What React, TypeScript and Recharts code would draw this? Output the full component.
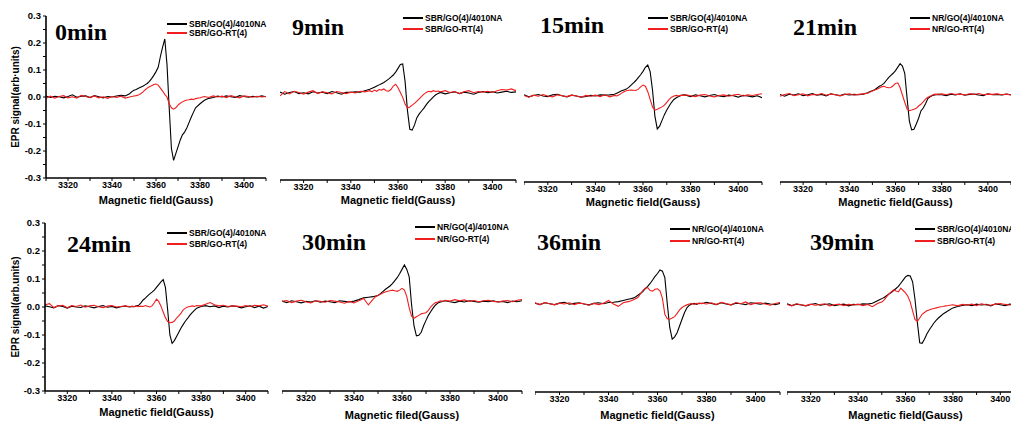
import React from 'react';
import { LineChart, Line, XAxis, YAxis } from 'recharts';

// magnetic field sampling (Gauss): coarse on the baseline, 1 G around the resonance
const FIELD = [
  3310, 3312, 3314, 3316, 3318, 3320, 3322, 3324, 3326, 3328, 3330, 3332, 3334, 3336, 3338, 3340, 3342, 3344, 3346, 3348,
  3349, 3350, 3351, 3352, 3353, 3354, 3355, 3356, 3357, 3358, 3359, 3360, 3361, 3362, 3363, 3364, 3365, 3366, 3367, 3368,
  3369, 3370, 3371, 3372, 3373, 3374, 3375, 3376, 3377,
  3378, 3380, 3382, 3384, 3386, 3388, 3390, 3392, 3394, 3396, 3398, 3400, 3402, 3404, 3406, 3408, 3410,
];

// 0 min
const B0 = [
  0.004, -0.002, 0.003, 0.001, -0.003, 0.002, 0.008, -0.001, 0.003, 0.004, -0.002, 0.005, 0.001, -0.003, 0.002, 0.0, 0.004, 0.006, 0.004, 0.012,
  0.02, 0.025, 0.028, 0.032, 0.036, 0.04, 0.045, 0.05, 0.058, 0.068, 0.08, 0.094, 0.11, 0.15, 0.185, 0.215, 0.12, -0.04, -0.19, -0.235,
  -0.21, -0.185, -0.16, -0.14, -0.13, -0.115, -0.095, -0.075, -0.057,
  -0.04, -0.025, -0.012, -0.005, -0.002, 0.003, 0.0, 0.004, 0.001, -0.002, 0.005, 0.002, -0.001, 0.003, 0.0, 0.004, 0.001,
];
const R0 = [
  -0.005, 0.003, -0.004, 0.002, 0.005, -0.003, 0.001, -0.004, 0.006, 0.002, -0.002, 0.004, -0.003, 0.001, -0.005, 0.002, -0.002, 0.003, -0.004, 0.0,
  0.002, 0.004, 0.005, 0.007, 0.012, 0.018, 0.026, 0.033, 0.038, 0.042, 0.046, 0.048, 0.044, 0.033, 0.022, 0.01, 0.0, -0.025, -0.04, -0.045,
  -0.04, -0.03, -0.023, -0.018, -0.014, -0.011, -0.01, -0.008, -0.009,
  -0.006, -0.003, 0.002, -0.002, 0.004, 0.0, 0.003, -0.002, 0.005, 0.001, -0.003, 0.004, 0.002, -0.001, 0.003, 0.0, 0.002,
];

// 9 min
const B9 = [
  0.003, -0.004, 0.002, 0.005, -0.002, 0.001, -0.003, 0.004, 0.0, 0.003, -0.002, 0.005, 0.001, -0.004, 0.002, 0.002, 0.004, 0.003, 0.008, 0.013,
  0.016, 0.02, 0.024, 0.028, 0.032, 0.036, 0.042, 0.048, 0.055, 0.062, 0.072, 0.085, 0.098, 0.1, 0.04, -0.06, -0.125, -0.128, -0.11, -0.085,
  -0.072, -0.062, -0.052, -0.04, -0.03, -0.022, -0.013, -0.006, -0.002,
  0.002, -0.003, 0.001, 0.004, -0.002, 0.003, 0.0, -0.004, 0.002, 0.005, 0.001, 0.004, 0.0, 0.003, 0.006, 0.002, 0.004,
];
const R9 = [
  -0.01, 0.005, -0.003, 0.006, 0.002, -0.004, 0.003, 0.008, -0.002, 0.004, 0.001, -0.003, 0.005, 0.002, -0.002, 0.003, 0.0, 0.006, 0.004, 0.008,
  0.004, 0.01, 0.006, 0.012, 0.01, 0.014, 0.008, 0.006, 0.012, 0.024, 0.03, 0.018, 0.002, -0.015, -0.038, -0.052, -0.048, -0.042, -0.036, -0.028,
  -0.02, -0.012, -0.004, 0.002, 0.006, 0.004, 0.008, 0.005, 0.007,
  0.004, 0.008, 0.002, 0.005, -0.002, 0.004, 0.008, 0.001, 0.005, 0.003, 0.006, 0.002, 0.008, 0.012, 0.01, 0.014, 0.008,
];

// 15 min
const B15 = [
  0.004, -0.003, 0.002, 0.005, 0.0, -0.002, 0.004, 0.006, 0.001, -0.003, 0.003, 0.0, -0.004, -0.002, 0.002, 0.0, 0.004, 0.003, 0.004, 0.006,
  0.01, 0.014, 0.018, 0.021, 0.024, 0.03, 0.038, 0.046, 0.054, 0.064, 0.074, 0.086, 0.1, 0.108, 0.085, 0.02, -0.07, -0.115, -0.105, -0.085,
  -0.065, -0.049, -0.035, -0.022, -0.012, -0.006, -0.002, 0.002, 0.004,
  0.003, -0.002, 0.004, 0.001, -0.003, 0.002, 0.005, 0.0, -0.002, 0.003, 0.001, -0.004, 0.002, 0.0, -0.003, 0.001, -0.006,
];
const R15 = [
  0.002, -0.004, 0.003, -0.001, 0.005, 0.0, -0.003, 0.004, 0.001, -0.002, 0.003, 0.0, -0.004, 0.002, -0.001, 0.003, -0.002, 0.004, -0.003, 0.002,
  0.0, 0.004, 0.01, 0.015, 0.018, 0.02, 0.021, 0.02, 0.019, 0.024, 0.032, 0.038, 0.034, 0.015, -0.012, -0.038, -0.049, -0.046, -0.042, -0.038,
  -0.032, -0.022, -0.012, -0.004, 0.0, 0.002, 0.0, 0.003, 0.002,
  0.004, 0.001, -0.002, 0.003, 0.005, 0.0, -0.003, 0.002, 0.004, -0.001, 0.003, 0.006, 0.0, 0.004, 0.002, 0.005, 0.008,
];

// 21 min
const B21 = [
  0.002, -0.004, 0.003, 0.0, 0.004, -0.002, 0.001, 0.005, -0.001, 0.002, -0.003, 0.004, 0.001, -0.002, 0.003, 0.0, 0.002, 0.001, 0.003, 0.008,
  0.012, 0.015, 0.018, 0.024, 0.03, 0.034, 0.04, 0.05, 0.06, 0.068, 0.075, 0.084, 0.096, 0.108, 0.1, 0.075, -0.01, -0.09, -0.12, -0.118,
  -0.1, -0.08, -0.055, -0.045, -0.03, -0.012, -0.006, -0.002, 0.0,
  0.002, 0.001, -0.002, 0.003, 0.0, 0.004, -0.001, 0.002, 0.003, 0.0, -0.002, 0.004, 0.001, 0.002, 0.0, 0.003, 0.001,
];
const R21 = [
  -0.004, 0.002, 0.005, -0.002, 0.001, 0.004, -0.003, 0.002, 0.0, 0.005, -0.001, 0.003, 0.001, -0.003, 0.002, 0.004, 0.0, 0.002, 0.004, 0.006,
  0.01, 0.014, 0.017, 0.02, 0.024, 0.028, 0.03, 0.027, 0.025, 0.026, 0.032, 0.04, 0.042, 0.025, 0.0, -0.025, -0.048, -0.054, -0.052, -0.049,
  -0.046, -0.038, -0.032, -0.024, -0.014, -0.008, -0.004, 0.0, 0.003,
  0.002, 0.004, 0.001, 0.005, 0.002, 0.003, 0.0, 0.004, 0.002, 0.005, 0.001, 0.003, 0.002, 0.004, 0.001, 0.003, 0.0,
];

// 24 min
const B24 = [
  0.004, 0.001, -0.003, 0.005, 0.002, -0.004, 0.003, 0.0, -0.002, 0.004, 0.001, -0.003, 0.002, 0.005, -0.001, 0.002, -0.003, 0.001, 0.003, 0.0,
  0.002, 0.001, 0.004, 0.006, 0.015, 0.025, 0.032, 0.04, 0.047, 0.053, 0.06, 0.07, 0.08, 0.09, 0.098, 0.07, -0.01, -0.1, -0.13, -0.12,
  -0.105, -0.09, -0.075, -0.062, -0.05, -0.04, -0.029, -0.02, -0.012,
  -0.004, 0.002, 0.005, 0.001, 0.004, -0.002, 0.003, 0.0, 0.004, 0.002, -0.003, 0.001, 0.004, -0.002, 0.003, -0.004, 0.002,
];
const R24 = [
  0.008, 0.012, -0.002, 0.004, 0.006, -0.003, 0.005, 0.002, 0.007, -0.001, 0.004, 0.006, 0.001, -0.002, 0.003, 0.005, 0.0, 0.002, 0.004, 0.001,
  0.003, 0.002, 0.004, 0.001, 0.003, 0.002, 0.005, 0.003, 0.0, 0.004, 0.015, 0.028, 0.02, 0.003, -0.018, -0.038, -0.052, -0.056, -0.055, -0.05,
  -0.04, -0.032, -0.022, -0.01, -0.004, 0.0, 0.002, 0.004, 0.002,
  0.005, 0.004, 0.01, 0.016, 0.008, 0.004, 0.006, 0.002, 0.004, 0.003, 0.001, 0.005, 0.002, 0.006, 0.004, 0.008, 0.003,
];

// 30 min
const B30 = [
  0.003, -0.002, 0.004, 0.001, -0.003, 0.002, 0.0, 0.004, -0.001, 0.003, 0.001, -0.002, 0.004, 0.002, 0.0, 0.003, 0.008, 0.014, 0.016, 0.018,
  0.02, 0.022, 0.028, 0.035, 0.042, 0.048, 0.054, 0.062, 0.072, 0.082, 0.095, 0.11, 0.125, 0.11, 0.085, -0.01, -0.08, -0.114, -0.112, -0.102,
  -0.08, -0.062, -0.045, -0.032, -0.02, -0.01, -0.003, 0.0, 0.002,
  0.004, 0.001, -0.002, 0.003, 0.0, 0.004, 0.002, -0.001, 0.003, 0.001, 0.004, 0.0, 0.002, -0.002, 0.003, 0.001, 0.004,
];
const R30 = [
  0.002, 0.005, -0.002, 0.003, 0.006, 0.001, -0.003, 0.004, 0.002, -0.001, 0.005, 0.003, 0.0, -0.004, 0.002, -0.003, 0.004, 0.012, -0.01, 0.01,
  0.018, 0.022, 0.026, 0.03, 0.034, 0.036, 0.038, 0.04, 0.038, 0.036, 0.04, 0.046, 0.04, 0.018, -0.02, -0.048, -0.055, -0.05, -0.045, -0.04,
  -0.038, -0.036, -0.028, -0.016, -0.008, -0.002, 0.0, 0.004, 0.002,
  0.006, 0.003, 0.008, 0.004, 0.007, 0.002, 0.005, 0.001, 0.004, 0.006, 0.002, 0.0, 0.003, 0.005, 0.001, 0.006, 0.008,
];

// 36 min
const B36 = [
  0.003, -0.002, 0.004, 0.001, -0.002, 0.003, 0.006, -0.001, 0.002, 0.004, 0.0, -0.003, 0.002, 0.004, 0.001, 0.005, 0.006, 0.008, 0.012, 0.016,
  0.018, 0.02, 0.024, 0.03, 0.036, 0.042, 0.052, 0.06, 0.07, 0.082, 0.094, 0.104, 0.116, 0.112, 0.09, 0.0, -0.08, -0.12, -0.112, -0.098,
  -0.075, -0.052, -0.03, -0.013, -0.004, 0.0, 0.002, -0.001, 0.003,
  0.001, 0.006, 0.002, -0.002, 0.004, 0.0, -0.003, 0.003, 0.001, -0.002, 0.004, 0.002, -0.001, 0.003, 0.0, -0.002, 0.002,
];
const R36 = [
  0.004, -0.002, 0.005, 0.001, -0.003, 0.003, 0.0, 0.004, -0.002, 0.003, 0.001, -0.004, 0.002, -0.002, 0.003, 0.012, 0.0, -0.008, 0.004, 0.008,
  0.01, 0.014, 0.018, 0.022, 0.034, 0.046, 0.054, 0.056, 0.046, 0.044, 0.05, 0.052, 0.045, 0.02, -0.035, -0.05, -0.052, -0.048, -0.043, -0.032,
  -0.02, -0.012, -0.007, -0.003, 0.0, 0.002, -0.001, 0.002, 0.001,
  0.003, 0.0, 0.004, -0.002, 0.006, 0.002, -0.003, 0.005, 0.001, 0.007, -0.002, 0.003, 0.004, 0.0, -0.004, 0.002, 0.005,
];

// 39 min
const B39 = [
  0.004, -0.002, 0.003, 0.0, -0.003, 0.002, 0.005, -0.001, 0.002, 0.004, -0.002, 0.001, 0.003, -0.003, 0.002, 0.001, 0.004, 0.003, 0.006, 0.014,
  0.018, 0.022, 0.026, 0.032, 0.038, 0.043, 0.05, 0.057, 0.064, 0.075, 0.086, 0.097, 0.102, 0.1, 0.08, 0.02, -0.06, -0.13, -0.132, -0.118,
  -0.1, -0.086, -0.074, -0.062, -0.052, -0.044, -0.037, -0.03, -0.025,
  -0.02, -0.01, -0.005, -0.002, 0.001, -0.002, 0.003, 0.0, 0.002, -0.003, 0.004, 0.001, -0.002, 0.003, 0.0, 0.002, -0.001,
];
const R39 = [
  0.002, -0.003, 0.004, 0.001, -0.002, 0.003, -0.001, 0.002, 0.004, -0.003, 0.001, 0.003, -0.002, 0.002, 0.0, 0.003, -0.002, 0.002, -0.006, 0.004,
  0.008, 0.01, 0.018, 0.028, 0.038, 0.045, 0.052, 0.048, 0.045, 0.058, 0.05, 0.042, 0.03, 0.01, -0.02, -0.05, -0.057, -0.045, -0.032, -0.026,
  -0.02, -0.017, -0.014, -0.012, -0.01, -0.008, -0.006, -0.005, -0.003,
  -0.002, 0.001, -0.003, 0.002, 0.0, 0.003, -0.002, 0.004, 0.001, -0.001, 0.003, 0.005, 0.002, 0.0, 0.004, 0.002, 0.006,
];

const X_TICKS = [3310, 3320, 3330, 3340, 3350, 3360, 3370, 3380, 3390, 3400, 3410];
const Y_TICKS = [-0.3, -0.25, -0.2, -0.15, -0.1, -0.05, 0, 0.05, 0.1, 0.15, 0.2, 0.25, 0.3];

const SBR_NAMES = ['SBR/GO(4)/4010NA', 'SBR/GO-RT(4)'];
const NR_NAMES = ['NR/GO(4)/4010NA', 'NR/GO-RT(4)'];

const SANS = '"Liberation Sans", Arial, sans-serif';
const SERIF = '"Liberation Serif", "Times New Roman", serif';
const RED = '#f01e1e';

type PanelCfg = {
  title: string;
  black: number[];
  red: number[];
  names: string[];
  xTitle: string;
  yTitle?: string;
  // plot box in page px
  px: number; py: number; pw: number; ph: number;
  xBase: number; // baseline of axis title
  tx: number; tBase: number; // title position
  lx: number; ly: number; lgap: number; // legend
};

const PANELS: PanelCfg[] = [
  { title: '0min', black: B0, red: R0, names: SBR_NAMES, xTitle: 'Magnetic field(Gauss)', yTitle: 'EPR signal(arb·units)',
    px: 46, py: 16, pw: 220, ph: 162, xBase: 204, tx: 55, tBase: 40, lx: 167, ly: 24, lgap: 9 },
  { title: '9min', black: B9, red: R9, names: SBR_NAMES, xTitle: 'Magnetic field(Gauss)',
    px: 280, py: 6, pw: 236, ph: 174, xBase: 204, tx: 292, tBase: 35, lx: 403, ly: 18, lgap: 11 },
  { title: '15min', black: B15, red: R15, names: SBR_NAMES, xTitle: 'Magnetic field(Gauss)',
    px: 524, py: 10, pw: 238, ph: 172, xBase: 206, tx: 540, tBase: 33, lx: 648, ly: 18, lgap: 11 },
  { title: '21min', black: B21, red: R21, names: NR_NAMES, xTitle: 'Magnetic field(Gauss)',
    px: 780, py: 8, pw: 231, ph: 174, xBase: 206, tx: 793, tBase: 35, lx: 910, ly: 18, lgap: 11 },
  { title: '24min', black: B24, red: R24, names: SBR_NAMES, xTitle: 'Magnetic field(Gauss)', yTitle: 'EPR signal(arb.units)',
    px: 45, py: 223, pw: 223, ph: 168, xBase: 416, tx: 67, tBase: 252, lx: 167, ly: 233, lgap: 11 },
  { title: '30min', black: B30, red: R30, names: NR_NAMES, xTitle: 'Magnetic filed(Gauss)',
    px: 282, py: 213, pw: 240, ph: 178, xBase: 419, tx: 302, tBase: 250, lx: 415, ly: 227, lgap: 12 },
  { title: '36min', black: B36, red: R36, names: NR_NAMES, xTitle: 'Magnetic field(Gauss)',
    px: 535, py: 216, pw: 245, ph: 176, xBase: 419, tx: 537, tBase: 250, lx: 670, ly: 229, lgap: 12 },
  { title: '39min', black: B39, red: R39, names: SBR_NAMES, xTitle: 'Magnetic field(Gauss)',
    px: 787, py: 218, pw: 237, ph: 174, xBase: 419, tx: 810, tBase: 250, lx: 915, ly: 229, lgap: 12 },
];

const tickStyle = { fontFamily: SANS, fontSize: 9, fontWeight: 700, fill: '#000' };

const fmtX = (v: number) => (v % 20 === 0 ? String(v) : '');
const fmtY = (v: number) => {
  const t = Math.round(v * 100);
  return t % 10 === 0 ? (t / 100).toFixed(1) : '';
};

const Panel = ({ c }: { c: PanelCfg }) => {
  const data = FIELD.map((f, i) => ({ field: f, black: c.black[i], red: c.red[i] }));
  const yW = c.yTitle ? c.px : 0;
  const mTop = c.yTitle ? 10 : 4;
  const xH = c.xBase - (c.py + c.ph);
  const width = yW + c.pw + 2;
  const height = mTop + c.ph + xH + 2;
  return (
    <>
      <div style={{ position: 'absolute', left: c.px - yW, top: c.py - mTop }}>
        <LineChart width={width} height={height} data={data} margin={{ top: mTop, right: 2, bottom: 2, left: 0 }}>
          <XAxis
            type="number"
            dataKey="field"
            domain={[3310, 3410]}
            allowDataOverflow
            ticks={X_TICKS}
            interval={0}
            tickFormatter={fmtX}
            tick={tickStyle}
            tickSize={3}
            tickMargin={1}
            height={xH}
            axisLine={{ stroke: '#000', strokeWidth: 1.6 }}
            tickLine={{ stroke: '#000', strokeWidth: 1 }}
            label={{ value: c.xTitle, position: 'insideBottom', offset: 0,
              style: { fontFamily: SANS, fontSize: 11, fontWeight: 700, fill: '#000' } }}
          />
          <YAxis
            type="number"
            domain={[-0.3, 0.3]}
            allowDataOverflow
            hide={!c.yTitle}
            width={yW}
            ticks={Y_TICKS}
            interval={0}
            tickFormatter={fmtY}
            tick={{ ...tickStyle, fontSize: 9.5 }}
            tickSize={3}
            tickMargin={2}
            axisLine={{ stroke: '#000', strokeWidth: 1.6 }}
            tickLine={{ stroke: '#000', strokeWidth: 1 }}
            label={c.yTitle ? { value: c.yTitle, angle: -90, position: 'insideLeft', offset: 15,
              style: { textAnchor: 'middle', fontFamily: SANS, fontSize: 10, fontWeight: 700, fill: '#000' } } : undefined}
          />
          <Line type="linear" dataKey="black" stroke="#000" strokeWidth={1.1} dot={false} isAnimationActive={false} />
          <Line type="linear" dataKey="red" stroke={RED} strokeWidth={1.1} dot={false} isAnimationActive={false} />
        </LineChart>
      </div>
      <div style={{ position: 'absolute', left: c.tx, top: c.tBase - 20, fontFamily: SERIF, fontWeight: 700,
        fontSize: 24, lineHeight: '24px', whiteSpace: 'nowrap', color: '#000' }}>{c.title}</div>
      {c.names.map((n, i) => (
        <div key={n} style={{ position: 'absolute', left: c.lx, top: Math.round(c.ly + i * c.lgap) - 5, height: 10,
          display: 'flex', alignItems: 'center', whiteSpace: 'nowrap' }}>
          <div style={{ width: 20, height: 2, background: i === 0 ? '#000' : RED }} />
          <span style={{ marginLeft: 2, fontFamily: SANS, fontWeight: 700, fontSize: 8.5, lineHeight: '10px', color: '#000' }}>{n}</span>
        </div>
      ))}
    </>
  );
};

export default function App() {
  return (
    <div style={{ position: 'absolute', left: 0, top: 0, width: 1011, height: 421, overflow: 'hidden', background: '#fff' }}>
      {PANELS.map((c) => <Panel key={c.title} c={c} />)}
    </div>
  );
}
